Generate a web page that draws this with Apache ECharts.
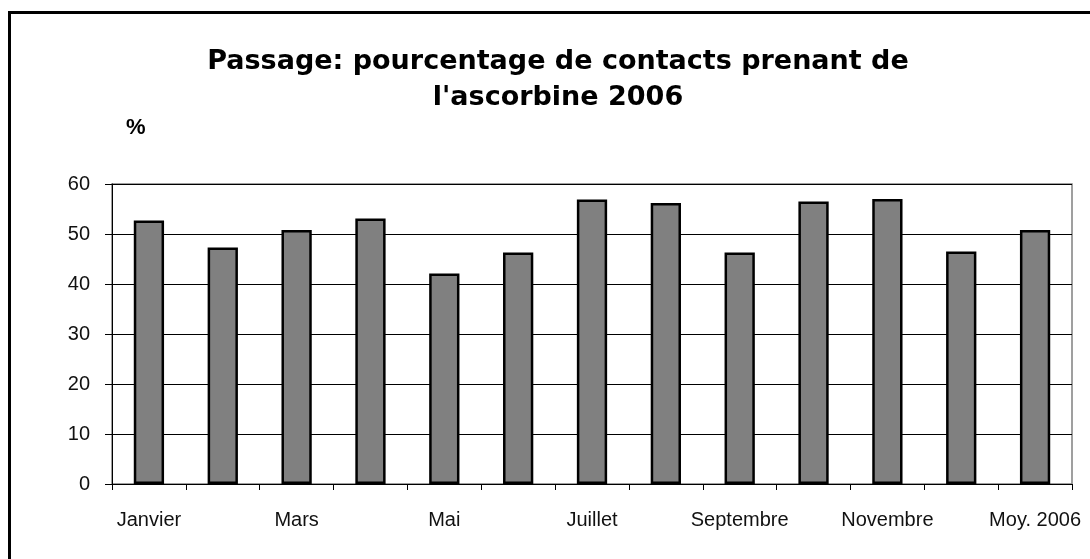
<!DOCTYPE html>
<html>
<head>
<meta charset="utf-8">
<script src="https://cdn.jsdelivr.net/npm/echarts@6/dist/echarts.min.js"></script>
<style>
  html, body { margin: 0; padding: 0; background: #fff; }
  .frame {
    position: absolute;
    left: 8px;
    top: 11px;
    width: 1200px;
    height: 700px;
    border-top: 3px solid #000;
    border-left: 3px solid #000;
    box-sizing: border-box;
  }
  #chart { position: absolute; left: 0; top: 0; width: 1090px; height: 559px; }
</style>
</head>
<body>
<div class="frame"></div>
<div id="chart"></div>
<script>
// données
const mois = ['Janvier', 'Février', 'Mars', 'Avril', 'Mai', 'Juin', 'Juillet',
  'Août', 'Septembre', 'Octobre', 'Novembre', 'Décembre', 'Moy. 2006'];
const pourcentages = [52.7, 47.3, 50.8, 53.1, 42.1, 46.3, 56.9, 56.2, 46.3, 56.5, 57.0, 46.5, 50.8];
const titre = 'Passage: pourcentage de contacts prenant de\nl\'ascorbine 2006';

const chart = echarts.init(document.getElementById('chart'));

chart.setOption({
  animation: false,
  textStyle: { fontFamily: 'Liberation Sans, Arial, sans-serif' },
  title: {
    text: titre,
    left: 553,
    textAlign: 'center',
    top: 39,
    textStyle: {
      fontFamily: 'DejaVu Sans',
      fontSize: 27,
      fontWeight: 'bold',
      color: '#000',
      lineHeight: 36
    }
  },
  grid: {
    left: 112,
    right: 18,
    top: 184,
    bottom: 75,
    show: true,
    borderColor: '#808080',
    borderWidth: 1.5
  },
  xAxis: {
    type: 'category',
    data: mois,
    axisLine: { lineStyle: { color: '#000', width: 1 } },
    axisTick: { show: true, interval: 0, length: 6, lineStyle: { color: '#000' } },
    axisLabel: { interval: 1, color: '#111', fontSize: 20, margin: 26 },
    splitLine: { show: false }
  },
  yAxis: {
    type: 'value',
    min: 0,
    max: 60,
    interval: 10,
    name: '%',
    nameLocation: 'end',
    nameGap: 45,
    nameTextStyle: { color: '#000', fontSize: 22, fontWeight: 'bold', align: 'left', padding: [0, 0, 0, 14] },
    axisLine: { show: true, lineStyle: { color: '#000', width: 1 } },
    axisTick: { show: true, length: 7, lineStyle: { color: '#000' } },
    axisLabel: { color: '#111', fontSize: 20, margin: 22 },
    splitLine: { lineStyle: { color: '#000', width: 1 } }
  },
  series: [{
    type: 'bar',
    data: pourcentages,
    barWidth: '41%',
    itemStyle: { color: '#808080', borderColor: '#000', borderWidth: 2.5 }
  }]
});
</script>
</body>
</html>
